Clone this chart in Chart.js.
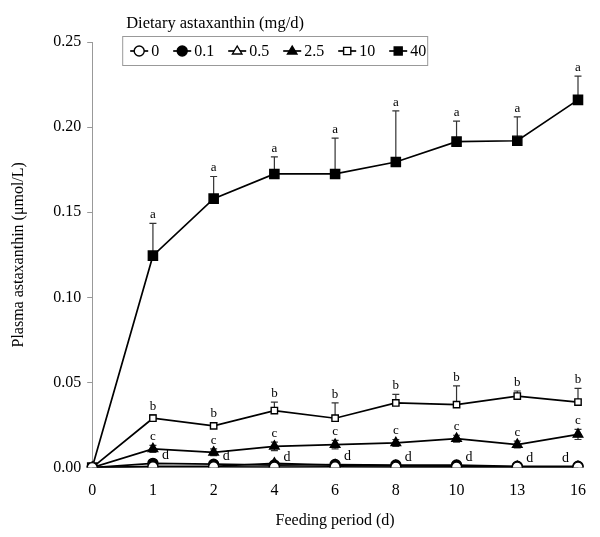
<!DOCTYPE html>
<html>
<head>
<meta charset="utf-8">
<script src="https://cdn.jsdelivr.net/npm/chart.js@4.4.1/dist/chart.umd.min.js"></script>
<style>
  html, body { margin: 0; padding: 0; background: #fff; }
  #wrap { width: 600px; height: 537px; }
</style>
</head>
<body>
<div id="wrap"><canvas id="chart"></canvas></div>
<script>
// feeding days (category axis, equally spaced)
const days = ['0', '1', '2', '4', '6', '8', '10', '13', '16'];
const doseLabels = ['0', '0.1', '0.5', '2.5', '10', '40'];

// plasma astaxanthin (umol/L) per dose group
const dose0   = [0, 0.0005, 0.0005, 0.0003, 0.0005, 0.0003, 0.0003, 0.0003, 0.0003];
const dose01  = [0, 0.0025, 0.0020, 0.0015, 0.0018, 0.0015, 0.0015, 0.0008, 0.0008];
const dose05  = [0, 0.0008, 0.0008, 0.0025, 0.0015, 0.0010, 0.0008, 0.0005, 0.0005];
const dose25  = [0, 0.011, 0.009, 0.0125, 0.0135, 0.0145, 0.017, 0.0135, 0.0195];
const dose10  = [0, 0.029, 0.0245, 0.0335, 0.029, 0.038, 0.037, 0.042, 0.0385];
const dose40  = [0, 0.1245, 0.158, 0.1725, 0.1725, 0.1795, 0.1915, 0.192, 0.216];

// standard deviations (error bars)
const err25 = [0, 0.002, 0.002, 0.0025, 0.0025, 0.002, 0.002, 0.002, 0.003];
const err10 = [0, 0.002, 0.002, 0.005, 0.009, 0.005, 0.011, 0.003, 0.008];
const err40 = [0, 0.019, 0.013, 0.010, 0.021, 0.030, 0.012, 0.014, 0.014];

// significance letters
const letters25 = ['', 'c', 'c', 'c', 'c', 'c', 'c', 'c', 'c'];
const letters10 = ['', 'b', 'b', 'b', 'b', 'b', 'b', 'b', 'b'];
const letters40 = ['', 'a', 'a', 'a', 'a', 'a', 'a', 'a', 'a'];
const lettersLow = ['', 'd', 'd', 'd', 'd', 'd', 'd', 'd', 'd'];

const FONT = '"Liberation Serif", "Times New Roman", serif';

function series(label, data, shape, filled, radius) {
  return {
    label: label,
    data: data,
    borderColor: '#000',
    borderWidth: 1.7,
    pointStyle: shape,
    pointRadius: radius,
    pointBorderWidth: 1.4,
    pointBorderColor: '#000',
    pointBackgroundColor: filled ? '#000' : '#fff',
    tension: 0
  };
}

/* --- error bars + letters --- */
const errorBarPlugin = {
  id: 'errorBars',
  beforeDatasetsDraw(chart) {
    const ctx = chart.ctx;
    const x = chart.scales.x, y = chart.scales.y;
    const sets = [[dose25, err25, true], [dose10, err10, false], [dose40, err40, false]];
    ctx.save();
    ctx.strokeStyle = '#333';
    ctx.lineWidth = 1.2;
    sets.forEach(([vals, errs, both]) => {
      vals.forEach((v, i) => {
        if (!errs[i]) return;
        const px = x.getPixelForValue(i);
        const top = y.getPixelForValue(v + errs[i]);
        const bot = both ? y.getPixelForValue(v - errs[i]) : y.getPixelForValue(v);
        ctx.beginPath();
        ctx.moveTo(px, bot); ctx.lineTo(px, top);
        ctx.moveTo(px - 3.5, top); ctx.lineTo(px + 3.5, top);
        if (both) { ctx.moveTo(px - 3.5, bot); ctx.lineTo(px + 3.5, bot); }
        ctx.stroke();
      });
    });
    ctx.restore();
  },
  afterDatasetsDraw(chart) {
    const ctx = chart.ctx;
    const x = chart.scales.x, y = chart.scales.y;
    ctx.save();
    ctx.fillStyle = '#000';
    ctx.font = '13px ' + FONT;
    ctx.textAlign = 'center';
    ctx.textBaseline = 'bottom';
    [[dose25, err25, letters25], [dose10, err10, letters10], [dose40, err40, letters40]].forEach(([vals, errs, lets]) => {
      vals.forEach((v, i) => {
        if (!lets[i]) return;
        ctx.fillText(lets[i], x.getPixelForValue(i), y.getPixelForValue(v + errs[i]) - 2);
      });
    });
    // 'd' beside the low cluster
    ctx.font = '14px ' + FONT;
    dose01.forEach((v, i) => {
      if (!lettersLow[i]) return;
      const last = i === dose01.length - 1;
      ctx.textAlign = last ? 'right' : 'left';
      ctx.fillText(lettersLow[i], x.getPixelForValue(i) + (last ? -9 : 9), y.getPixelForValue(v) - 1);
    });
    ctx.restore();
  }
};

/* --- legend box drawn inside the plot --- */
function drawMarker(ctx, shape, filled, cx, cy, r) {
  ctx.beginPath();
  if (shape === 'circle') {
    ctx.arc(cx, cy, r, 0, Math.PI * 2);
  } else if (shape === 'triangle') {
    ctx.moveTo(cx, cy - r);
    ctx.lineTo(cx + r * 0.95, cy + r * 0.6);
    ctx.lineTo(cx - r * 0.95, cy + r * 0.6);
    ctx.closePath();
  } else {
    ctx.rect(cx - r * 0.8, cy - r * 0.8, r * 1.6, r * 1.6);
  }
  ctx.fillStyle = filled ? '#000' : '#fff';
  ctx.fill();
  ctx.stroke();
}

const legendPlugin = {
  id: 'boxLegend',
  afterDraw(chart) {
    const ctx = chart.ctx;
    const left = chart.chartArea.left + 30, top = chart.chartArea.top - 6;
    ctx.save();
    ctx.fillStyle = '#000';
    ctx.font = '16.5px ' + FONT;
    ctx.textBaseline = 'middle';
    ctx.textAlign = 'left';
    ctx.fillText('Dietary astaxanthin (mg/d)', left + 4, top - 12);
    ctx.strokeStyle = '#999';
    ctx.lineWidth = 1;
    ctx.strokeRect(left + 0.5, top + 0.5, 305, 29);
    ctx.font = '16px ' + FONT;
    let cx = left + 8;
    const cy = top + 15;
    chart.data.datasets.forEach(ds => {
      ctx.strokeStyle = '#000';
      ctx.lineWidth = 1.7;
      ctx.beginPath();
      ctx.moveTo(cx, cy); ctx.lineTo(cx + 18, cy);
      ctx.stroke();
      ctx.lineWidth = 1.4;
      drawMarker(ctx, ds.pointStyle, ds.pointBackgroundColor === '#000', cx + 9, cy, Math.min(ds.pointRadius, 5));
      ctx.fillStyle = '#000';
      ctx.fillText(ds.label, cx + 21, cy + 1);
      cx += 21 + ctx.measureText(ds.label).width + 14;
    });
    ctx.restore();
  }
};

new Chart(document.getElementById('chart'), {
  type: 'line',
  data: {
    labels: days,
    datasets: [
      series(doseLabels[0], dose0, 'circle', false, 5),
      series(doseLabels[1], dose01, 'circle', true, 5),
      series(doseLabels[2], dose05, 'triangle', false, 5.5),
      series(doseLabels[3], dose25, 'triangle', true, 5.5),
      series(doseLabels[4], dose10, 'rect', false, 4.5),
      series(doseLabels[5], dose40, 'rect', true, 6.5)
    ]
  },
  options: {
    responsive: true,
    maintainAspectRatio: false,
    animation: false,
    layout: { padding: { left: 5, right: 22, top: 42, bottom: 7 } },
    plugins: {
      legend: { display: false },
      tooltip: { enabled: false }
    },
    scales: {
      x: {
        grid: { display: false },
        border: { display: true, color: '#999' },
        ticks: { color: '#000', font: { family: FONT, size: 16 }, padding: 6 },
        title: { display: true, text: 'Feeding period (d)', color: '#000', font: { family: FONT, size: 16 }, padding: { top: 4, bottom: 0 } }
      },
      y: {
        min: 0,
        max: 0.25,
        grid: { drawOnChartArea: false, drawTicks: true, tickLength: 5, color: '#999' },
        border: { display: true, color: '#999' },
        ticks: { stepSize: 0.05, color: '#000', font: { family: FONT, size: 16 }, padding: 6,
                 callback: v => v.toFixed(2) },
        title: { display: true, text: 'Plasma astaxanthin (μmol/L)', color: '#000', font: { family: FONT, size: 16 }, padding: { bottom: 19 } }
      }
    }
  },
  plugins: [errorBarPlugin, legendPlugin]
});
</script>
</body>
</html>
